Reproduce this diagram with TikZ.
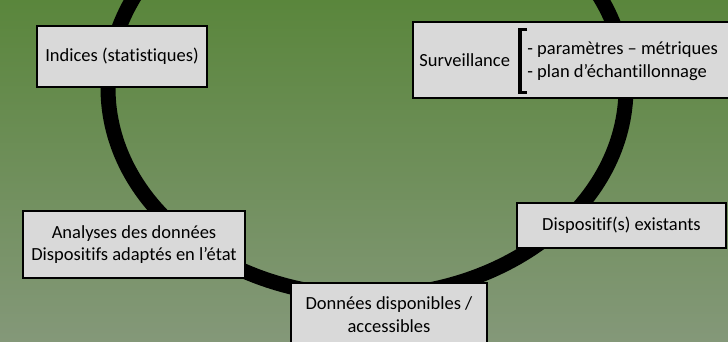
\documentclass[tikz,border=0pt]{standalone}
\usepackage{fontspec}
\setmainfont{Carlito}[Ligatures=NoCommon]
\usepackage{xcolor}
\usepackage{tikz}
\definecolor{bgtop}{RGB}{90,134,60}
\definecolor{bgbottom}{RGB}{132,152,121}
\definecolor{boxfill}{RGB}{217,217,217}

\begin{document}
\begin{tikzpicture}[x=1pt,y=-1pt,thick]
\tikzstyle{box} = [draw=black, line width=1.5pt, fill=boxfill, align=center, inner sep=0pt, font=\fontsize{18.5}{22.5}\selectfont]
\tikzstyle{lbl} = [inner sep=0pt, align=left, font=\fontsize{18.5}{22.5}\selectfont]
\useasboundingbox (0,0) rectangle (728,342);
\shade[top color=bgtop, bottom color=bgbottom] (0,0) rectangle (728,342);
\clip (0,0) rectangle (728,342);
\draw[line width=15pt] (367,88) ellipse [x radius=259pt, y radius=208pt];
\node[box, minimum width=170pt, minimum height=61pt] (indices) at (122,56.5) {Indices (statistiques)};
\node[box, minimum width=322pt, minimum height=76pt] (surv) at (574,60) {};
\node[lbl, anchor=west] (survlbl) at (419,60) {Surveillance};
\node[lbl, anchor=west, inner ysep=12pt] (survlist) at (527,61) {- paramètres – métriques\\- plan d’échantillonnage};
\draw[line width=3.5pt] ([xshift=0pt]survlist.north west) -| ([xshift=-7pt]survlist.south west) -- ([xshift=0pt]survlist.south west);
\node[box, minimum width=222pt, minimum height=67pt] (analyses) at (134,244.5) {Analyses des données\\Dispositifs adaptés en l’état};
\node[box, minimum width=209pt, minimum height=45pt] (existants) at (621.5,225.5) {Dispositif(s) existants};
\node[box, anchor=north, minimum width=196pt, minimum height=64pt] (donnees) at (389,282) {Données disponibles /\\accessibles};
\end{tikzpicture}
\end{document}
